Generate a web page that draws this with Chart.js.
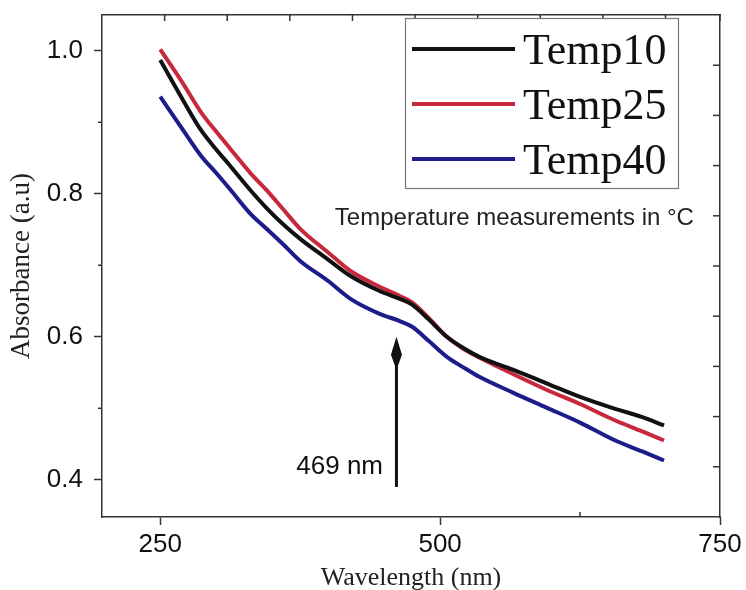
<!DOCTYPE html>
<html>
<head>
<meta charset="utf-8">
<script src="https://cdn.jsdelivr.net/npm/chart.js@4.4.1/dist/chart.umd.min.js"></script>
<style>
  html, body { margin: 0; padding: 0; background: #fff; }
</style>
</head>
<body>
<canvas id="absChart" width="746" height="590"></canvas>
<script>
// wavelength in nm, absorbance in a.u
const wavelengths = [250, 270, 286, 300, 312, 330, 345, 360, 375, 400, 420, 446, 464, 475, 490, 506, 520, 535, 565, 595, 625, 655, 680, 700];
const temp10 = [0.987, 0.932, 0.890, 0.862, 0.840, 0.806, 0.780, 0.757, 0.737, 0.708, 0.685, 0.664, 0.653, 0.645, 0.624, 0.600, 0.585, 0.572, 0.554, 0.535, 0.516, 0.500, 0.488, 0.476];
const temp25 = [1.002, 0.955, 0.915, 0.887, 0.864, 0.830, 0.805, 0.778, 0.751, 0.718, 0.692, 0.670, 0.657, 0.648, 0.626, 0.600, 0.584, 0.571, 0.548, 0.526, 0.506, 0.484, 0.468, 0.455];
const temp40 = [0.936, 0.890, 0.854, 0.829, 0.807, 0.773, 0.751, 0.729, 0.706, 0.678, 0.653, 0.632, 0.622, 0.614, 0.594, 0.572, 0.558, 0.544, 0.522, 0.501, 0.480, 0.456, 0.440, 0.427];

const seriesNames = ['Temp10', 'Temp25', 'Temp40'];
const seriesColors = ['#111111', '#c8283c', '#1c1c8a'];
const xTicks = [250, 500, 750];
const yTicks = [0.4, 0.6, 0.8, 1.0];

const frameColor = '#333';

function pts(ys) {
    return wavelengths.map(function (w, i) { return { x: w, y: ys[i] }; });
}

function line(ctx, x1, y1, x2, y2) {
    ctx.beginPath();
    ctx.moveTo(x1, y1);
    ctx.lineTo(x2, y2);
    ctx.stroke();
}

// no extra room for half labels, the frame is fixed
function noPad(s) {
    s.paddingTop = 0;
    s.paddingBottom = 0;
    s.paddingLeft = 0;
    s.paddingRight = 0;
}

// small ticks, legend box and the notes on the plot
const frameDecor = {
    id: 'frameDecor',
    afterDraw(chart) {
        const { ctx, chartArea: a, scales: { x, y, x2, y2 } } = chart;
        ctx.save();
        ctx.strokeStyle = frameColor;
        ctx.lineWidth = 1.5;

        // minor ticks on the left, outward
        for (let i = 0; i < yTicks.length - 1; i++) {
            const py = y.getPixelForValue((yTicks[i] + yTicks[i + 1]) / 2);
            line(ctx, a.left - 4, py, a.left, py);
        }
        // minor tick on the bottom, inward
        const mx = x.getPixelForValue((xTicks[1] + xTicks[2]) / 2);
        line(ctx, mx, a.bottom, mx, a.bottom - 5);

        // top and right ticks point inward
        x2.ticks.forEach(function (t) {
            if (t.value <= 0) return;
            const px = x2.getPixelForValue(t.value);
            line(ctx, px, a.top, px, a.top + 6);
        });
        y2.ticks.forEach(function (t) {
            if (t.value <= 0 || t.value >= 10) return;
            const py = y2.getPixelForValue(t.value);
            line(ctx, a.right, py, a.right - 7, py);
        });

        // legend
        ctx.fillStyle = '#fff';
        ctx.fillRect(405, 18, 273, 170);
        ctx.strokeStyle = '#777';
        ctx.lineWidth = 1.2;
        ctx.strokeRect(405.5, 18.5, 273, 170);
        chart.data.datasets.forEach(function (ds, i) {
            const cy = 49 + i * 55;
            ctx.strokeStyle = ds.borderColor;
            ctx.lineWidth = 4;
            line(ctx, 412, cy, 515, cy);
            ctx.fillStyle = '#111';
            ctx.font = '44px "Liberation Serif"';
            ctx.textAlign = 'left';
            ctx.textBaseline = 'alphabetic';
            ctx.fillText(ds.label, 523, cy + 15);
        });

        // note under the legend
        ctx.fillStyle = '#222';
        ctx.font = '24px "Liberation Sans"';
        ctx.textAlign = 'left';
        ctx.fillText('Temperature measurements in \u00B0C', x.getPixelForValue(406), y.getPixelForValue(0.757));

        // arrow marking the shoulder
        const ax = x.getPixelForValue(461);
        const aTop = y.getPixelForValue(0.6);
        const aBot = y.getPixelForValue(0.39);
        ctx.strokeStyle = '#111';
        ctx.lineWidth = 3;
        line(ctx, ax, aBot, ax, aTop + 20);
        ctx.fillStyle = '#111';
        ctx.beginPath();
        ctx.moveTo(ax, aTop);
        ctx.lineTo(ax + 5.5, aTop + 18);
        ctx.lineTo(ax + 1.5, aTop + 29);
        ctx.lineTo(ax - 1.5, aTop + 29);
        ctx.lineTo(ax - 5.5, aTop + 18);
        ctx.closePath();
        ctx.fill();

        ctx.font = '26px "Liberation Sans"';
        ctx.textAlign = 'right';
        ctx.fillText('469 nm', x.getPixelForValue(449), y.getPixelForValue(0.408));
        ctx.restore();
    }
};

const datasets = [temp10, temp25, temp40].map(function (ys, i) {
    return {
        label: seriesNames[i],
        data: pts(ys),
        borderColor: seriesColors[i],
        borderWidth: 4,
        pointRadius: 0,
        cubicInterpolationMode: 'monotone',
        fill: false
    };
});

const tickFont = { family: '"Liberation Sans", Arial, sans-serif', size: 26 };
const titleFont = { family: '"Liberation Serif", "Times New Roman", serif', size: 26 };

new Chart(document.getElementById('absChart'), {
    type: 'line',
    data: { datasets: datasets },
    options: {
        responsive: false,
        animation: false,
        devicePixelRatio: 1,
        layout: { padding: 0 },
        plugins: {
            legend: { display: false },
            tooltip: { enabled: false }
        },
        scales: {
            x: {
                type: 'linear',
                position: 'bottom',
                min: 198,
                max: 750,
                afterBuildTicks: function (s) { s.ticks = xTicks.map(function (v) { return { value: v }; }); },
                afterFit: function (s) { s.height = 73; noPad(s); },
                ticks: { font: tickFont, color: '#111', padding: 4, maxRotation: 0 },
                grid: { drawOnChartArea: false, tickLength: 8, tickColor: frameColor, tickWidth: 1.5 },
                border: { display: true, color: frameColor, width: 1.5 },
                title: {
                    display: true,
                    text: 'Wavelength (nm)',
                    font: titleFont,
                    color: '#222',
                    padding: { top: 0, bottom: -4 }
                }
            },
            y: {
                position: 'left',
                min: 0.348,
                max: 1.05,
                afterBuildTicks: function (s) { s.ticks = yTicks.map(function (v) { return { value: v }; }); },
                afterFit: function (s) { s.width = 102; noPad(s); },
                ticks: {
                    font: tickFont,
                    color: '#111',
                    padding: 11,
                    callback: function (v) { return v.toFixed(1); }
                },
                grid: { drawOnChartArea: false, tickLength: 8, tickColor: frameColor, tickWidth: 1.5 },
                border: { display: true, color: frameColor, width: 1.5 },
                title: {
                    display: true,
                    text: 'Absorbance (a.u)',
                    font: { family: titleFont.family, size: 27 },
                    color: '#222',
                    padding: { top: 6, bottom: 0 }
                }
            },
            x2: {
                type: 'linear',
                position: 'top',
                min: 0,
                max: 9.87,
                ticks: { display: false, stepSize: 1 },
                afterFit: function (s) { s.height = 15; noPad(s); },
                grid: { display: false },
                border: { display: true, color: frameColor, width: 1.5 }
            },
            y2: {
                type: 'linear',
                position: 'right',
                min: 0,
                max: 10,
                ticks: { display: false, stepSize: 1 },
                afterFit: function (s) { s.width = 26; noPad(s); },
                grid: { display: false },
                border: { display: true, color: frameColor, width: 1.5 }
            }
        }
    },
    plugins: [frameDecor]
});
</script>
</body>
</html>
